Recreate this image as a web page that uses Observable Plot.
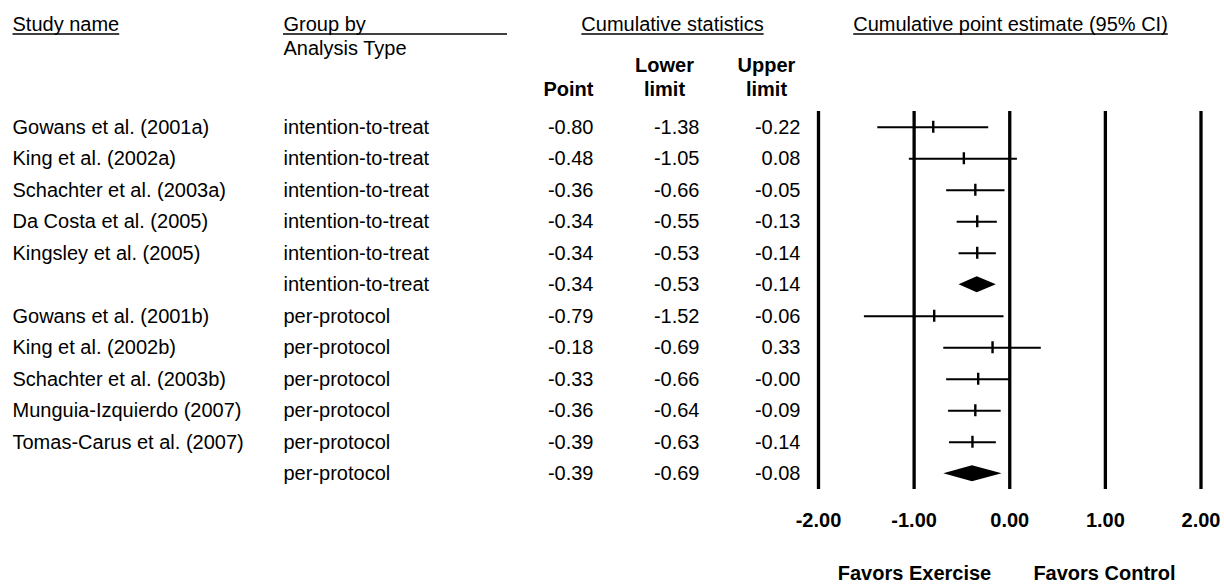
<!DOCTYPE html>
<html>
<head>
<meta charset="utf-8">
<script src="https://cdn.jsdelivr.net/npm/d3@7"></script>
<script src="https://cdn.jsdelivr.net/npm/@observablehq/plot@0.6"></script>
<style>
  body { margin: 0; background: #fff; }
  #chart svg { display: block; font-family: "Liberation Sans", Arial, Helvetica, sans-serif; }
</style>
</head>
<body>
<div id="chart"></div>
<script>
// ---- data ----
const studyNames = [
  "Gowans et al. (2001a)", "King et al. (2002a)", "Schachter et al. (2003a)",
  "Da Costa et al. (2005)", "Kingsley et al. (2005)", "",
  "Gowans et al. (2001b)", "King et al. (2002b)", "Schachter et al. (2003b)",
  "Munguia-Izquierdo (2007)", "Tomas-Carus et al. (2007)", ""
];
const groups = [
  "intention-to-treat", "intention-to-treat", "intention-to-treat",
  "intention-to-treat", "intention-to-treat", "intention-to-treat",
  "per-protocol", "per-protocol", "per-protocol",
  "per-protocol", "per-protocol", "per-protocol"
];
const points = [-0.80, -0.48, -0.36, -0.34, -0.34, -0.34, -0.79, -0.18, -0.33, -0.36, -0.39, -0.39];
const lowers = [-1.38, -1.05, -0.66, -0.55, -0.53, -0.53, -1.52, -0.69, -0.66, -0.64, -0.63, -0.69];
const uppers = [-0.22, 0.08, -0.05, -0.13, -0.14, -0.14, -0.06, 0.33, -0.00, -0.09, -0.14, -0.08];
const isSummary = [false, false, false, false, false, true, false, false, false, false, false, true];
const xTicks = [-2, -1, 0, 1, 2];
const headers = ["Study name", "Group by", "Cumulative statistics", "Cumulative point estimate (95% CI)"];
const subHeader = "Analysis Type";
const statHeadTop = ["Lower", "Upper"];
const statHeadBottom = ["Point", "limit", "limit"];
const favorsLabels = ["Favors Exercise", "Favors Control"];

// ---- helpers ----
const fmt = v => (v < 0 || Object.is(v, -0)) ? "-" + Math.abs(v).toFixed(2) : v.toFixed(2);
const rows = studyNames.map((name, i) => ({
  row: i, name, group: groups[i], point: points[i], lower: lowers[i], upper: uppers[i], summary: isSummary[i]
}));
const studies = rows.filter(d => !d.summary);
const summaries = rows.filter(d => d.summary);
const dh = 0.254; // diamond half-height in row units
const diamond = summaries.flatMap(d => [
  {row: d.row, x: d.lower, y1: d.row, y2: d.row},
  {row: d.row, x: d.point, y1: d.row - dh, y2: d.row + dh},
  {row: d.row, x: d.upper, y1: d.row, y2: d.row}
]);

const T = {fontSize: 20, fill: "black", lineAnchor: "middle"};
const one = s => [s];
const id = d => d;

const chart = Plot.plot({
  width: 1224,
  height: 585,
  margin: 0,
  x: {domain: [-2, 2], range: [818, 1200.5], axis: null},
  y: {domain: [-0.5, 11.5], range: [111, 489], axis: null},
  style: {background: "white", color: "black", fontFamily: "'Liberation Sans', Arial, sans-serif", fontSize: "20px"},
  marks: [
    // vertical reference lines
    Plot.ruleX(xTicks, {x: id, y1: -0.5, y2: 11.5, stroke: "black", strokeWidth: 3.3}),
    // confidence intervals
    Plot.ruleY(studies, {y: "row", x1: "lower", x2: "upper", stroke: "black", strokeWidth: 2}),
    // point estimates
    Plot.ruleX(studies, {x: "point", y1: "row", y2: "row", insetTop: -6, insetBottom: -6, stroke: "black", strokeWidth: 2.4}),
    // summary diamonds
    Plot.areaY(diamond, {x: "x", y1: "y1", y2: "y2", z: "row", fill: "black", curve: "linear"}),

    // table columns
    Plot.text(rows, {...T, y: "row", text: "name", frameAnchor: "left", dx: 12, textAnchor: "start"}),
    Plot.text(rows, {...T, y: "row", text: "group", frameAnchor: "left", dx: 283, textAnchor: "start"}),
    Plot.text(rows, {...T, y: "row", text: d => fmt(d.point), frameAnchor: "left", dx: 593, textAnchor: "end"}),
    Plot.text(rows, {...T, y: "row", text: d => fmt(d.lower), frameAnchor: "left", dx: 699, textAnchor: "end"}),
    Plot.text(rows, {...T, y: "row", text: d => fmt(d.upper), frameAnchor: "left", dx: 800, textAnchor: "end"}),

    // headers
    Plot.text(one(headers[0]), {...T, text: id, frameAnchor: "top-left", dx: 12, dy: 24, textAnchor: "start"}),
    Plot.text(one(headers[1]), {...T, text: id, frameAnchor: "top-left", dx: 283, dy: 24, textAnchor: "start"}),
    Plot.text(one(headers[2]), {...T, text: id, frameAnchor: "top-left", dx: 672, dy: 24, textAnchor: "middle"}),
    Plot.text(one(headers[3]), {...T, text: id, frameAnchor: "top-left", dx: 1010, dy: 24, textAnchor: "middle"}),
    Plot.text(one(subHeader), {...T, text: id, frameAnchor: "top-left", dx: 283, dy: 48.5, textAnchor: "start"}),
    Plot.text(one(statHeadTop[0]), {...T, text: id, frameAnchor: "top-left", dx: 664, dy: 65.5, textAnchor: "middle", fontWeight: "bold"}),
    Plot.text(one(statHeadTop[1]), {...T, text: id, frameAnchor: "top-left", dx: 766, dy: 65.5, textAnchor: "middle", fontWeight: "bold"}),
    Plot.text(one(statHeadBottom[0]), {...T, text: id, frameAnchor: "top-left", dx: 593, dy: 89.5, textAnchor: "end", fontWeight: "bold"}),
    Plot.text(one(statHeadBottom[1]), {...T, text: id, frameAnchor: "top-left", dx: 664, dy: 89.5, textAnchor: "middle", fontWeight: "bold"}),
    Plot.text(one(statHeadBottom[2]), {...T, text: id, frameAnchor: "top-left", dx: 766, dy: 89.5, textAnchor: "middle", fontWeight: "bold"}),

    // x tick labels
    Plot.text(xTicks, {...T, x: id, text: fmt, frameAnchor: "top", dy: 520.5, textAnchor: "middle", fontWeight: "bold"}),
    // favors labels
    Plot.text(one(favorsLabels[0]), {...T, text: id, frameAnchor: "top-left", dx: 914, dy: 573, textAnchor: "middle", fontWeight: "bold"}),
    Plot.text(one(favorsLabels[1]), {...T, text: id, frameAnchor: "top-left", dx: 1104, dy: 573, textAnchor: "middle", fontWeight: "bold"})
  ]
});

document.getElementById("chart").appendChild(chart);
const svg = d3.select(chart);
const svgRect = chart.getBoundingClientRect();
const underlineY = 34;
const underlined = [headers[0], headers[2], headers[3]];
// underline header texts using their measured on-screen extents
const spans = [];
svg.selectAll("text").each(function() {
  if (underlined.includes(this.textContent)) {
    const r = this.getBoundingClientRect();
    spans.push([r.left - svgRect.left, r.right - svgRect.left]);
  }
});
// "Group by" header underline spans the column
spans.push([283, 507]);
spans.forEach(([a, b]) => {
  svg.append("line")
    .attr("x1", a).attr("x2", b)
    .attr("y1", underlineY).attr("y2", underlineY)
    .attr("stroke", "black").attr("stroke-width", 1.4);
});
</script>
</body>
</html>
